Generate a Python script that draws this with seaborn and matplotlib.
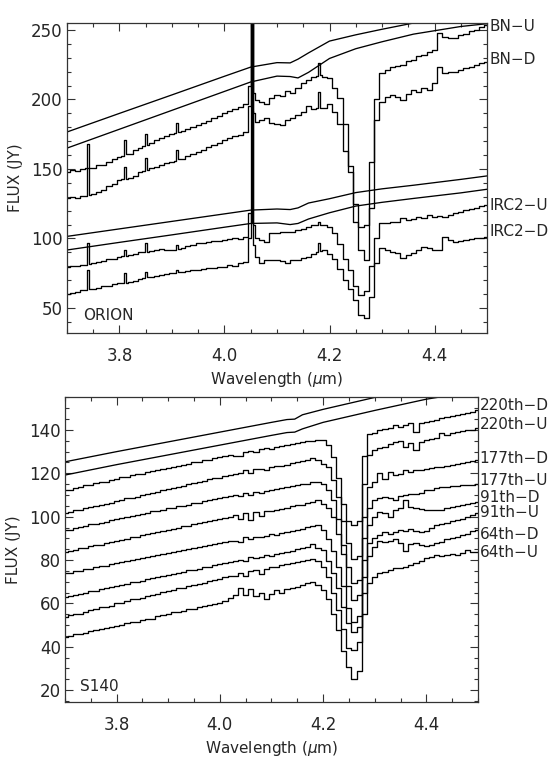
import seaborn as sns
import matplotlib.pyplot as plt
import pandas as pd
from matplotlib.ticker import MultipleLocator, FormatStrFormatter

# ---- ORION panel: wavelength grid (um) of the observed spectra ----
WL_TOP = [3.70, 3.71, 3.72, 3.73, 3.737, 3.740, 3.743, 3.75, 3.76, 3.77, 3.78, 3.79, 3.80,
          3.807, 3.810, 3.813, 3.82, 3.83, 3.84, 3.847, 3.850, 3.853, 3.86, 3.87, 3.88, 3.89, 3.90,
          3.907, 3.910, 3.913, 3.92, 3.93, 3.94, 3.95, 3.96, 3.97, 3.98, 3.99, 4.00, 4.01, 4.02,
          4.03, 4.04,
          4.049, 4.051, 4.053, 4.055,
          4.06, 4.07, 4.08, 4.09, 4.10, 4.11, 4.12, 4.13, 4.14, 4.15, 4.16, 4.17,
          4.177, 4.180, 4.183,
          4.19, 4.20, 4.21, 4.22, 4.23, 4.24, 4.25,
          4.26, 4.27, 4.28, 4.29, 4.30, 4.31, 4.32, 4.33, 4.34, 4.35,
          4.36, 4.37, 4.38, 4.39, 4.40, 4.41, 4.42, 4.43, 4.44, 4.45,
          4.46, 4.47, 4.48, 4.49, 4.50]

BN_U = [148.1, 149.0, 148.5, 150.0, 150.4, 168.0, 150.7, 151.0, 152.5, 153.0, 155.0, 157.5, 158.5,
        159.5, 171.0, 160.5, 161.0, 163.5, 165.0, 166.5, 175.5, 167.5, 168.5, 170.5, 172.0, 174.0, 175.5,
        176.0, 183.0, 176.8, 177.5, 178.5, 180.0, 181.5, 183.0, 184.5, 186.5, 188.0, 190.0, 191.5, 193.0,
        194.5, 196.5,
        210.0, 300.0, 300.0, 205.0,
        199.6, 198.0, 197.0, 201.0, 203.0, 202.5, 206.0, 205.0, 208.0, 211.5, 214.0, 216.4,
        217.0, 226.0, 217.5,
        216.5, 215.5, 208.0, 201.0, 182.0, 152.0, 112.0,
        108.4, 110.0, 155.0, 200.0, 219.0, 221.0, 223.6, 224.0, 225.0, 227.5,
        228.4, 231.0, 232.0, 234.4, 235.6, 247.6, 245.2, 244.5, 244.0, 246.4,
        247.0, 249.0, 250.0, 252.0, 253.6]

BN_D = [128.9, 129.5, 129.0, 130.5, 130.8, 150.5, 131.2, 132.0, 133.5, 135.0, 137.5, 139.5, 142.0,
        142.5, 151.7, 143.0, 143.5, 145.0, 147.5, 148.5, 157.7, 149.5, 150.5, 151.5, 153.0, 154.0, 155.3,
        156.0, 163.7, 157.0, 157.5, 159.0, 160.5, 162.5, 164.0, 165.5, 167.5, 169.0, 170.9, 172.0, 173.5,
        174.5, 176.5,
        195.0, 300.0, 192.0, 190.0,
        184.0, 185.0, 186.5, 183.0, 182.5, 181.7, 185.0, 186.5, 189.0, 191.0, 195.0, 193.0,
        194.0, 205.6, 194.0,
        193.6, 197.0, 191.0, 182.0, 163.0, 148.0, 125.0,
        92.0, 84.5, 122.0, 185.0, 198.4, 202.0, 203.2, 202.0, 199.6, 204.0,
        206.8, 205.6, 208.0, 206.8, 211.6, 223.6, 218.8, 219.5, 220.0, 221.5,
        222.4, 223.5, 224.8, 226.0, 227.2]

IRC2_U = [79.7, 80.5, 80.0, 81.0, 81.2, 97.0, 81.5, 82.0, 83.0, 83.5, 85.0, 85.5, 87.0,
          87.3, 91.7, 87.6, 88.0, 89.0, 90.0, 90.3, 96.5, 90.6, 91.0, 91.5, 92.5, 91.5, 91.7,
          92.0, 95.3, 92.5, 93.5, 94.5, 95.5, 96.5, 97.0, 97.5, 98.5, 98.0, 99.0, 99.5, 100.0,
          99.5, 101.0,
          118.0, 112.0, 300.0, 110.0,
          100.0, 99.0, 97.7, 103.7, 104.0, 105.0, 104.5, 105.0, 106.0, 107.0, 108.5, 109.5,
          110.0, 111.5, 110.0,
          109.5, 108.4, 104.0, 96.0, 85.0, 77.0, 66.0,
          59.3, 62.0, 80.0, 100.0, 110.8, 110.8, 111.5, 112.0, 114.4, 113.2,
          114.0, 115.6, 114.4, 116.8, 115.7, 116.5, 115.5, 117.0, 118.1, 119.0,
          120.5, 121.0, 122.0, 123.0, 124.0]

IRC2_D = [60.0, 61.0, 61.5, 63.0, 63.2, 77.3, 63.6, 64.0, 64.5, 65.5, 66.0, 67.0, 67.8,
          68.0, 75.0, 68.2, 68.5, 69.5, 71.0, 71.5, 76.0, 72.0, 72.5, 73.0, 73.5, 74.5, 75.0,
          75.3, 77.3, 75.6, 76.0, 76.5, 77.0, 77.3, 78.0, 78.5, 79.0, 79.5, 79.7, 81.0, 80.5,
          82.0, 83.3,
          100.0, 300.0, 300.0, 95.0,
          87.0, 82.0, 84.5, 84.5, 84.5, 84.0, 82.0, 84.5, 84.5, 86.0, 87.0, 89.0,
          90.0, 96.5, 91.0,
          92.0, 89.0, 85.0, 78.0, 70.0, 64.0, 56.0,
          45.0, 42.5, 58.0, 82.0, 92.8, 91.6, 90.5, 89.2, 85.6, 88.0,
          89.2, 91.6, 94.0, 92.8, 91.7, 91.7, 101.3, 99.0, 97.7, 98.5,
          99.0, 99.5, 100.0, 100.5, 101.3]

# smooth model continua, ORION
MOD_WL_TOP = [3.70, 3.80, 3.90, 4.00, 4.05, 4.10, 4.125, 4.14, 4.16, 4.20,
              4.25, 4.30, 4.36, 4.45, 4.50]
BN_MODEL_1 = [176.6, 190.0, 203.3, 216.7, 223.3, 226.5, 226.3, 229.0, 233.5, 242.0,
              246.5, 250.5, 255.0, 261.0, 264.0]
BN_MODEL_2 = [165.0, 178.6, 192.2, 205.8, 212.6, 216.8, 216.5, 215.5, 219.5, 229.5,
              236.5, 241.5, 247.0, 252.5, 254.5]
IRC2_MODEL_1 = [101.5, 106.9, 112.3, 117.7, 120.4, 121.2, 120.8, 122.0, 125.5, 128.6,
                133.0, 135.7, 138.3, 142.5, 145.0]
IRC2_MODEL_2 = [91.7, 97.2, 102.6, 108.1, 110.8, 111.2, 110.0, 110.8, 114.0, 118.5,
                123.3, 126.0, 128.8, 132.8, 135.4]

TOP_LABELS = ['BN\u2212U', 'BN\u2212D', 'IRC2\u2212U', 'IRC2\u2212D']
TOP_LABEL_Y = [252.3, 228.4, 124.0, 104.8]

# ---- S140 panel ----
WL_BOT = [3.70, 3.71, 3.72, 3.73, 3.74, 3.75, 3.76, 3.77, 3.78, 3.79,
          3.80, 3.81, 3.82, 3.83, 3.84, 3.85, 3.86, 3.87, 3.88, 3.89,
          3.90, 3.91, 3.92, 3.93, 3.94, 3.95, 3.96, 3.97, 3.98, 3.99,
          4.00, 4.01, 4.02, 4.03, 4.04, 4.05, 4.06, 4.07, 4.08, 4.09,
          4.10, 4.11, 4.12, 4.13, 4.14, 4.15, 4.16, 4.17, 4.18, 4.19,
          4.20, 4.21, 4.22, 4.23, 4.24, 4.25, 4.26, 4.27, 4.28, 4.29,
          4.30, 4.31, 4.32, 4.33, 4.34, 4.35, 4.36, 4.37, 4.38, 4.39,
          4.40, 4.41, 4.42, 4.43, 4.44, 4.45, 4.46, 4.47, 4.48, 4.49,
          4.50]

S220_D = [112.2, 112.5, 113.4, 113.6, 114.5, 114.6, 115.5, 116.0, 116.2, 117.0,
          117.4, 118.1, 118.3, 119.0, 119.6, 119.9, 120.6, 121.0, 121.5, 121.8,
          122.6, 122.8, 123.5, 124.0, 124.3, 125.0, 125.4, 126.0, 126.3, 127.0,
          127.3, 127.8, 128.5, 128.2, 128.0, 129.8, 130.5, 129.9, 131.0, 131.5,
          131.2, 132.2, 132.6, 133.0, 133.6, 133.8, 134.5, 135.0, 135.0, 135.2,
          135.3, 133.0, 127.6, 118.0, 106.0, 98.0, 96.1, 98.0, 128.0, 138.0,
          138.5, 140.0, 140.5, 141.0, 142.3, 141.5, 142.5, 143.0, 139.2, 143.0,
          143.5, 144.0, 144.6, 145.3, 146.0, 146.5, 147.0, 147.5, 148.0, 148.5,
          149.2]

S220_U = [101.8, 102.0, 102.9, 103.3, 103.8, 104.5, 104.8, 105.6, 106.0, 106.5,
          107.3, 107.6, 108.4, 108.8, 109.3, 110.0, 110.6, 111.0, 111.5, 112.3,
          112.6, 113.4, 113.8, 114.3, 115.0, 115.4, 116.2, 116.5, 117.2, 117.8,
          118.0, 118.9, 119.2, 119.8, 120.0, 121.5, 120.2, 121.8, 122.0, 121.5,
          122.8, 123.2, 123.5, 124.0, 124.8, 125.3, 125.6, 126.1, 126.9, 126.0,
          124.5, 123.0, 116.9, 109.0, 98.0, 88.0, 80.7, 82.0, 115.0, 128.5,
          130.7, 131.5, 132.0, 133.5, 134.6, 135.0, 132.3, 133.8, 130.7, 134.6,
          135.3, 135.8, 136.5, 138.4, 137.5, 138.5, 139.0, 139.5, 139.8, 140.2,
          140.7]

S177_D = [93.8, 94.0, 94.9, 95.1, 95.8, 96.4, 96.6, 97.3, 97.6, 98.4,
          98.7, 99.3, 99.9, 100.1, 100.8, 101.3, 101.6, 102.4, 102.7, 103.2,
          103.8, 104.1, 104.9, 105.1, 105.6, 106.3, 106.5, 107.2, 107.6, 108.0,
          108.7, 109.0, 109.6, 110.2, 109.4, 111.0, 110.2, 111.6, 111.0, 112.0,
          112.5, 112.8, 113.3, 113.8, 114.2, 114.6, 115.0, 115.3, 115.8, 116.1,
          115.0, 112.5, 107.6, 99.0, 87.0, 77.0, 69.2, 71.0, 100.0, 113.8,
          116.0, 120.0, 117.5, 120.7, 119.2, 119.5, 121.5, 120.8, 121.5, 121.5,
          122.0, 122.3, 122.8, 123.0, 123.5, 124.0, 124.3, 124.8, 125.2, 125.6,
          126.1]

S177_U = [83.8, 84.3, 84.6, 85.4, 85.7, 86.4, 86.9, 87.1, 87.9, 88.2,
          89.0, 89.3, 89.8, 90.5, 90.8, 91.5, 91.9, 92.4, 93.0, 93.3,
          94.0, 94.4, 94.8, 95.6, 95.9, 96.5, 96.9, 97.5, 98.0, 98.3,
          99.1, 99.3, 100.0, 100.6, 99.0, 101.5, 98.5, 102.0, 100.5, 102.5,
          102.8, 103.2, 103.6, 104.2, 104.8, 105.3, 105.5, 106.1, 106.8, 107.6,
          106.0, 104.0, 100.0, 92.0, 83.0, 68.0, 61.5, 64.0, 90.0, 104.0,
          107.6, 108.5, 109.2, 108.5, 107.6, 109.5, 110.0, 110.3, 110.5, 110.7,
          112.3, 112.5, 113.2, 113.8, 113.5, 114.0, 114.2, 114.4, 114.6, 114.7,
          114.9]

S91_D = [73.8, 74.2, 74.8, 75.0, 75.8, 76.0, 76.8, 77.1, 77.4, 78.2,
         78.5, 79.0, 79.4, 80.0, 80.3, 80.9, 81.5, 81.7, 82.4, 82.6,
         83.2, 83.8, 84.0, 84.6, 85.0, 85.4, 86.0, 86.4, 86.8, 87.5,
         87.7, 88.3, 88.8, 89.0, 88.5, 90.5, 89.5, 90.8, 90.5, 91.0,
         91.8, 91.5, 92.3, 92.8, 93.2, 93.8, 94.5, 95.3, 95.8, 96.1,
         94.0, 89.5, 84.0, 77.0, 68.0, 58.0, 51.5, 54.0, 80.0, 96.0,
         100.0, 102.3, 101.5, 100.0, 103.0, 104.0, 107.6, 104.6, 104.0, 103.5,
         103.0, 103.0, 103.3, 103.0, 104.0, 104.6, 105.0, 105.5, 106.0, 106.4,
         106.9]

S91_U = [63.0, 63.2, 64.0, 64.3, 65.0, 65.5, 65.8, 66.6, 67.0, 67.5,
         68.2, 68.5, 69.0, 69.7, 70.0, 70.5, 71.3, 71.5, 72.2, 72.8,
         73.0, 73.7, 74.0, 74.6, 75.2, 75.5, 76.0, 76.8, 77.0, 77.5,
         78.2, 78.5, 79.0, 79.7, 80.0, 79.5, 81.5, 80.8, 81.2, 82.3,
         82.0, 82.8, 83.2, 83.7, 84.2, 84.9, 85.5, 86.1, 87.6, 85.5,
         84.6, 79.5, 74.0, 67.0, 58.5, 51.0, 46.9, 49.0, 72.0, 88.0,
         90.0, 91.5, 93.0, 92.0, 93.0, 94.0, 93.5, 94.5, 93.5, 93.0,
         93.5, 95.0, 96.0, 96.5, 97.0, 97.8, 98.5, 99.0, 100.0, 100.8,
         101.5]

S64_D = [53.8, 54.5, 55.0, 55.3, 56.2, 56.8, 57.2, 58.3, 58.5, 59.0,
         60.0, 60.3, 61.0, 61.8, 62.2, 62.6, 63.5, 64.0, 64.5, 65.3,
         65.6, 66.2, 67.0, 67.3, 68.0, 68.7, 69.0, 69.6, 70.4, 70.8,
         71.3, 72.0, 72.6, 72.8, 74.0, 72.5, 74.8, 75.5, 73.5, 76.0,
         76.8, 77.0, 77.5, 78.0, 78.6, 79.2, 79.6, 80.0, 80.7, 79.5,
         76.9, 72.0, 65.0, 57.0, 48.0, 39.5, 38.4, 42.0, 65.0, 82.0,
         86.0, 89.0, 88.5, 89.0, 89.5, 88.0, 84.0, 87.5, 88.0, 87.0,
         86.5, 87.0, 88.0, 88.5, 89.5, 90.0, 90.8, 91.5, 92.0, 93.5,
         93.8]

S64_U = [44.6, 45.0, 45.7, 46.0, 46.5, 47.3, 47.6, 48.0, 48.8, 49.3,
         49.6, 50.0, 50.9, 51.2, 51.5, 52.4, 52.8, 53.0, 54.2, 54.5,
         55.0, 55.8, 56.0, 56.6, 57.2, 57.5, 58.3, 58.6, 59.2, 59.8,
         60.2, 61.0, 62.5, 64.0, 67.0, 64.0, 66.5, 63.5, 65.0, 62.0,
         64.5, 66.0, 65.0, 66.5, 67.0, 67.6, 68.5, 69.2, 70.0, 68.5,
         66.0, 62.0, 55.3, 47.6, 38.0, 30.5, 25.3, 29.0, 55.0, 69.2,
         72.0, 73.8, 74.5, 75.5, 76.1, 76.5, 77.0, 77.7, 78.5, 79.5,
         81.0, 81.5, 82.3, 82.0, 82.5, 83.0, 82.5, 83.3, 84.5, 83.5,
         83.8]

MOD_WL_BOT = [3.70, 3.80, 3.90, 4.00, 4.10, 4.13, 4.145, 4.16, 4.20, 4.30, 4.40, 4.50]
S140_MODEL_1 = [125.3, 130.0, 134.5, 139.0, 143.5, 144.8, 145.0, 147.0, 149.5, 155.0, 159.5, 164.0]
S140_MODEL_2 = [119.2, 124.0, 128.5, 133.0, 137.5, 138.8, 139.0, 140.5, 143.5, 149.0, 154.2, 158.0]

BOT_LABELS = ['220th\u2212D', '220th\u2212U', '177th\u2212D', '177th\u2212U',
              '91th\u2212D', '91th\u2212U', '64th\u2212D', '64th\u2212U']
BOT_LABEL_Y = [151.5, 142.3, 127.0, 116.9, 109.0, 102.1, 92.0, 83.7]


def long_frame(wl, series):
    parts = []
    for name, flux in series.items():
        assert len(flux) == len(wl), name
        parts.append(pd.DataFrame({'wl': wl, 'flux': flux, 'name': name}))
    return pd.concat(parts, ignore_index=True)


top_obs = long_frame(WL_TOP, {'BN-U': BN_U, 'BN-D': BN_D,
                              'IRC2-U': IRC2_U, 'IRC2-D': IRC2_D})
top_mod = long_frame(MOD_WL_TOP, {'m1': BN_MODEL_1, 'm2': BN_MODEL_2,
                                  'm3': IRC2_MODEL_1, 'm4': IRC2_MODEL_2})
bot_obs = long_frame(WL_BOT, {'220D': S220_D, '220U': S220_U, '177D': S177_D,
                              '177U': S177_U, '91D': S91_D, '91U': S91_U,
                              '64D': S64_D, '64U': S64_U})
bot_mod = long_frame(MOD_WL_BOT, {'m1': S140_MODEL_1, 'm2': S140_MODEL_2})

sns.set_style("ticks")
plt.rcParams['font.family'] = ['DejaVu Sans']
plt.rcParams['mathtext.fontset'] = 'dejavusans'

fig = plt.figure(figsize=(5.55, 7.62), dpi=100)
ax1 = fig.add_axes([0.1207, 0.5630, 0.7568, 0.4068])
ax2 = fig.add_axes([0.1171, 0.0787, 0.7441, 0.4003])

for ax, obs, mod in [(ax1, top_obs, top_mod), (ax2, bot_obs, bot_mod)]:
    sns.lineplot(data=mod, x='wl', y='flux', units='name', estimator=None,
                 color='black', lw=0.95, sort=False, legend=False, ax=ax)
    sns.lineplot(data=obs, x='wl', y='flux', units='name', estimator=None,
                 color='black', lw=0.95, drawstyle='steps-mid', sort=False,
                 legend=False, ax=ax)

ax1.set_ylim(32, 255)
ax2.set_ylim(14.5, 155.2)
ax1.yaxis.set_major_locator(MultipleLocator(50))
ax1.yaxis.set_minor_locator(MultipleLocator(10))
ax2.yaxis.set_major_locator(MultipleLocator(20))
ax2.yaxis.set_minor_locator(MultipleLocator(5))

for ax in (ax1, ax2):
    ax.set_xlim(3.7, 4.5)
    ax.xaxis.set_major_locator(MultipleLocator(0.2))
    ax.xaxis.set_minor_locator(MultipleLocator(0.05))
    ax.xaxis.set_major_formatter(FormatStrFormatter('%.1f'))
    ax.tick_params(which='both', direction='in', top=True, right=True,
                   width=0.8, color='#333333', labelsize=12)
    ax.tick_params(which='major', length=6)
    ax.tick_params(which='minor', length=3)
    ax.tick_params(axis='x', which='major', pad=10)
    ax.tick_params(axis='y', which='major', pad=3)
    for sp in ax.spines.values():
        sp.set_linewidth(0.9)
        sp.set_color('#333333')
    ax.set_xlabel('Wavelength ($\\mu$m)', fontsize=11, labelpad=4)
    ax.set_ylabel('FLUX (JY)', fontsize=11, labelpad=6)

ax1.text(0.038, 0.058, 'ORION', transform=ax1.transAxes, fontsize=11,
         ha='left', va='center')
ax2.text(0.036, 0.05, 'S140', transform=ax2.transAxes, fontsize=11,
         ha='left', va='center')

for lab, y in zip(TOP_LABELS, TOP_LABEL_Y):
    ax1.text(4.505, y, lab, fontsize=11, ha='left', va='center', clip_on=False)
for lab, y in zip(BOT_LABELS, BOT_LABEL_Y):
    ax2.text(4.503, y, lab, fontsize=11, ha='left', va='center', clip_on=False)

plt.savefig('out.png', dpi=100)
